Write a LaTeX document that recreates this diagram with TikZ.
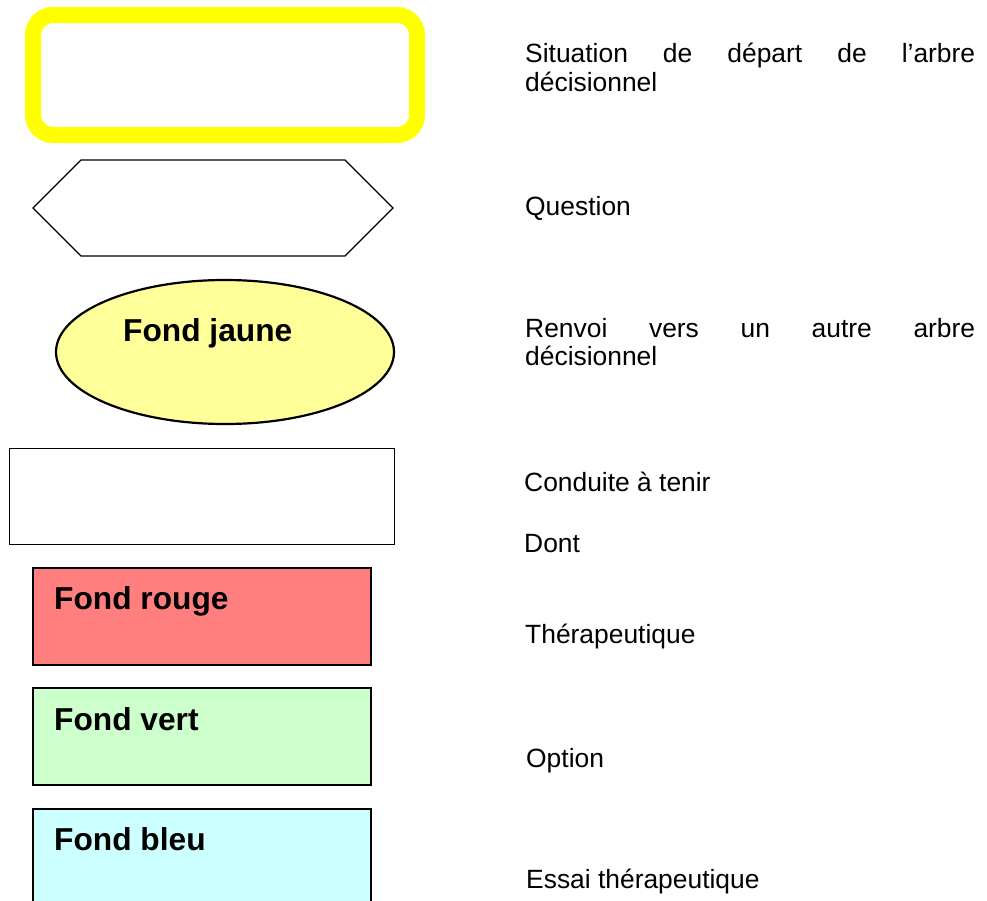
\documentclass[tikz,border=0pt]{standalone}
\usepackage{fontspec}
\setmainfont{Liberation Sans}
\usetikzlibrary{shapes.geometric}
\definecolor{jaunefond}{HTML}{FFFF99}
\definecolor{jaunebord}{HTML}{FFFF00}
\definecolor{rougefond}{HTML}{FF7F7F}
\definecolor{vertfond}{HTML}{CCFFCC}
\definecolor{bleufond}{HTML}{CCFFFF}
\newfontfamily\legfont{Liberation Sans}
\tikzset{
  legtext/.style={anchor=base west, inner sep=0pt, font=\fontsize{26.4}{29}\selectfont},
  boldtext/.style={anchor=base west, inner sep=0pt, font=\fontsize{31.7}{36}\selectfont\bfseries},
  colbox/.style={draw=black, line width=1.6pt, rectangle, inner sep=0pt, anchor=north west, minimum width=338pt, minimum height=97pt},
}
\begin{document}
\begin{tikzpicture}[x=1pt,y=-1pt]
\useasboundingbox (0,0) rectangle (987,900);
\clip (0,0) rectangle (987,900);
\fill[white] (0,0) rectangle (987,900);
% start box
\node[draw=jaunebord, line width=16pt, rounded corners=20pt, rectangle, inner sep=0pt,
      minimum width=384pt, minimum height=120pt, anchor=center] (start) at (225,75) {};
% question hexagon
\draw[line width=1.3pt, line join=miter] (33,208) -- (81,160) -- (345,160) -- (393,208) -- (345,256) -- (81,256) -- cycle;
% ellipse
\node[ellipse, draw=black, fill=jaunefond, line width=2.2pt, inner sep=0pt,
      minimum width=338pt, minimum height=144pt] (renvoi) at (225,352) {};
\node[boldtext] (tjaune) at (123,341) {Fond jaune};
% conduite
\node[draw=black, line width=1.4pt, rectangle, inner sep=0pt, anchor=north west,
      minimum width=385pt, minimum height=96pt] (conduite) at (9,448) {};
% coloured boxes
\node[colbox, fill=rougefond] (rouge) at (32,567) {};
\node[colbox, fill=vertfond] (vert) at (32,687) {};
\node[colbox, fill=bleufond, minimum height=120pt] (bleu) at (32,808) {};
\node[boldtext] (trouge) at (54,609) {Fond rouge};
\node[boldtext] (tvert) at (54,730) {Fond vert};
\node[boldtext] (tbleu) at (54,850) {Fond bleu};
% legend texts
\node[legtext] (l1a) at (525,62) {\makebox[450pt][l]{Situation\hfill de\hfill départ\hfill de\hfill l’arbre}};
\node[legtext] (l1b) at (525,91) {décisionnel};
\node[legtext] (l2) at (525,215) {Question};
\node[legtext] (l3a) at (525,337) {\makebox[450pt][l]{Renvoi\hfill vers\hfill un\hfill autre\hfill arbre}};
\node[legtext] (l3b) at (525,365) {décisionnel};
\node[legtext] (l4) at (524,491) {Conduite à tenir};
\node[legtext] (l5) at (524,552) {Dont};
\node[legtext] (l6) at (525,643) {Thérapeutique};
\node[legtext] (l7) at (526,767) {Option};
\node[legtext] (l8) at (526,888) {Essai thérapeutique};
\end{tikzpicture}
\end{document}
